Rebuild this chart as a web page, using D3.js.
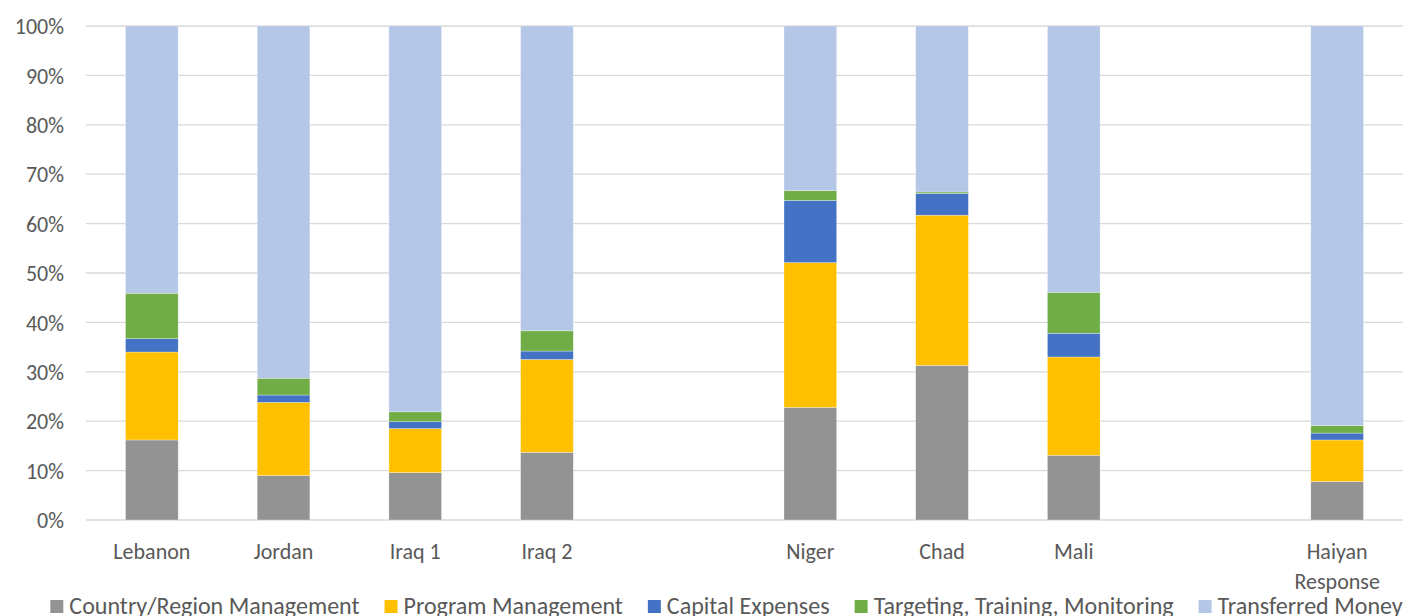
<!DOCTYPE html>
<html>
<head>
<meta charset="utf-8">
<script src="https://cdn.jsdelivr.net/npm/d3@7"></script>
<style>
  html, body { margin: 0; padding: 0; background: #fff; }
  svg { display: block; }
  text { font-family: Carlito, Calibri, Lato, sans-serif; fill: #595959; }
</style>
</head>
<body>
<svg id="chart" width="1405" height="616"></svg>
<script>
// ---- Data (percent of total) ----
const categories = ["Lebanon", "Jordan", "Iraq 1", "Iraq 2", "", "Niger", "Chad", "Mali", "", "Haiyan Response"];
const seriesNames = ["Country/Region Management", "Program Management", "Capital Expenses", "Targeting, Training, Monitoring", "Transferred Money"];
const countryRegionMgmt = [16.2, 9.0, 9.6, 13.7, 0, 22.8, 31.3, 13.1, 0, 7.8];
const programMgmt       = [17.8, 14.8, 8.9, 18.8, 0, 29.3, 30.4, 19.9, 0, 8.4];
const capitalExpenses   = [2.7, 1.5, 1.4, 1.7, 0, 12.6, 4.4, 4.8, 0, 1.4];
const targetingTraining = [9.2, 3.4, 2.0, 4.1, 0, 2.0, 0.3, 8.3, 0, 1.5];
const transferredMoney  = [54.1, 71.3, 78.1, 61.7, 0, 33.3, 33.6, 53.9, 0, 80.9];
const yTicks = [0, 0.1, 0.2, 0.3, 0.4, 0.5, 0.6, 0.7, 0.8, 0.9, 1.0];
const colors = ["#939393", "#ffc000", "#4472c4", "#70ad47", "#b4c7e7"];

// ---- Build table ----
const seriesValues = [countryRegionMgmt, programMgmt, capitalExpenses, targetingTraining, transferredMoney];
const keys = seriesNames;
const table = categories.map((c, i) => {
  const row = { idx: i, cat: c };
  keys.forEach((k, j) => row[k] = seriesValues[j][i]);
  return row;
});

const W = 1405, H = 616;
const margin = { top: 26, right: 2, bottom: 96, left: 86 };
const FONT = "Carlito, Calibri, Lato, sans-serif";
const svg = d3.select("#chart");

const x = d3.scaleBand()
  .domain(d3.range(categories.length))
  .range([margin.left, W - margin.right])
  .paddingInner(0.6)
  .paddingOuter(0.3);

const y = d3.scaleLinear().domain([0, 1]).range([H - margin.bottom, margin.top]);

// gridlines
svg.append("g").selectAll("line").data(yTicks).join("line")
  .attr("x1", margin.left).attr("x2", W - margin.right)
  .attr("y1", d => y(d)).attr("y2", d => y(d))
  .attr("stroke", "#d9d9d9").attr("stroke-width", 1.3);

// y axis labels
const yAxis = d3.axisLeft(y).tickValues(yTicks).tickFormat(d3.format(".0%")).tickSize(0).tickPadding(22);
const gy = svg.append("g").attr("transform", `translate(${margin.left},0)`).call(yAxis);
gy.select(".domain").remove();
gy.selectAll("text").style("font-size", "22px").attr("fill", "#595959")
  .style("font-family", FONT).attr("dy", "0.35em");

// stacked bars (100% stacked)
const stack = d3.stack().keys(keys).offset(d3.stackOffsetExpand);
const stacked = stack(table);

svg.append("g").selectAll("g").data(stacked).join("g")
  .attr("fill", (d, i) => colors[i])
  .selectAll("rect").data(d => d.filter(p => p.data[d.key] > 0)).join("rect")
  .attr("x", d => x(d.data.idx))
  .attr("width", x.bandwidth())
  .attr("y", d => y(d[1]))
  .attr("height", d => Math.max(0, y(d[0]) - y(d[1])))
  .attr("stroke", "#ffffff").attr("stroke-opacity", 0.5).attr("stroke-width", 0.6);

// category labels
const xAxis = d3.axisBottom(x).tickFormat(i => categories[i]).tickSize(0).tickPadding(0);
const gx = svg.append("g").attr("transform", `translate(0,${H - margin.bottom})`).call(xAxis);
gx.select(".domain").remove();
gx.selectAll(".tick text").each(function(i) {
  const t = d3.select(this);
  const label = categories[i];
  t.text(null).attr("y", 0).attr("dy", null)
    .style("font-size", "22px").attr("fill", "#595959")
    .style("font-family", FONT);
  if (label === "Haiyan Response") {
    label.split(" ").forEach((w, k) => t.append("tspan").attr("x", 0).attr("y", 39 + k * 30).text(w));
  } else {
    t.append("tspan").attr("x", 0).attr("y", 39).text(label);
  }
});

// legend
const legend = svg.append("g");
const items = legend.selectAll("g").data(keys).join("g");
items.append("rect").attr("width", 13).attr("height", 13).attr("y", 600)
  .attr("fill", (d, i) => colors[i]);
items.append("text").attr("x", 19).attr("y", 614)
  .style("font-size", "21px").text(d => d);
// fit legend total width to reference span
const targetTextTotal = 1158;
let widths = [];
items.select("text").each(function() { widths.push(this.getComputedTextLength()); });
const scale = targetTextTotal / d3.sum(widths);
const fs = 21 * scale;
items.select("text").style("font-size", fs + "px");
widths = [];
items.select("text").each(function() { widths.push(this.getComputedTextLength()); });
const gap = 25;
const totalW = d3.sum(widths.map(w => w + 19)) + gap * (keys.length - 1);
let cx = (51 + 1402) / 2 - totalW / 2;
items.each(function(d, i) {
  d3.select(this).attr("transform", `translate(${cx},0)`);
  cx += widths[i] + 19 + gap;
});
</script>
</body>
</html>
